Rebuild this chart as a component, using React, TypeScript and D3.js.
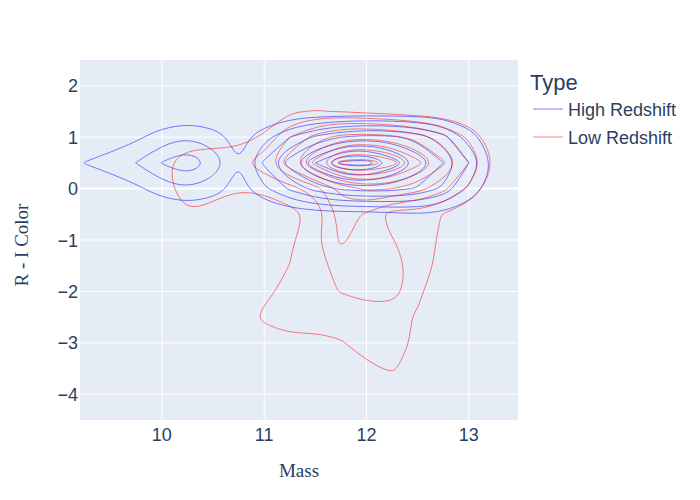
import { useMemo } from "react";
import * as d3 from "d3";

// histogram bin centres (mass along x, R - I colour along y, top row first)
const massBins = [9.0, 9.25, 9.5, 9.75, 10.0, 10.25, 10.5, 10.75, 11.0, 11.25, 11.5, 11.75, 12.0, 12.25, 12.5, 12.75, 13.0, 13.25, 13.5];
const colorBins = [2.0, 1.5, 1.0, 0.5, 0.0, -0.5, -1.0, -1.5, -2.0, -2.5, -3.0, -3.5, -4.0];

// estimated counts per bin, one row per colour bin
const highRedshift = [
  [0, 0, 0, 0, 0, 0, 0, 0, 0, 0, 0, 0, 0, 0, 0, 0, 0, 0, 0],
  [0, 0, 0, 0, 0, 0.1, 0, 0, 0, 0.1, 0.1, 0.1, 0.1, 0.1, 0.1, 0.1, 0, 0, 0],
  [0, 0, 0.3, 0.8, 1.5, 1.95, 1.5, 0.6, 1.6, 3.0, 4.2, 5.0, 5.4, 5.2, 4.6, 3.4, 1.5, 0.2, 0],
  [0.3, 1.05, 1.5, 2.02, 3.05, 3.9, 2.7, 1.01, 3.2, 5.6, 8.0, 10.3, 10.6, 8.8, 6.9, 5.0, 3.0, 0.8, 0],
  [0, 0, 0.3, 0.8, 1.5, 1.95, 1.5, 0.6, 1.8, 3.2, 4.4, 5.2, 5.5, 5.4, 4.9, 3.8, 1.8, 0.3, 0],
  [0, 0, 0, 0, 0, 0.15, 0, 0, 0, 0.2, 0.4, 0.5, 0.5, 0.7, 0.9, 0.7, 0.2, 0, 0],
  [0, 0, 0, 0, 0, 0, 0, 0, 0, 0, 0, 0, 0, 0, 0, 0, 0, 0, 0],
  [0, 0, 0, 0, 0, 0, 0, 0, 0, 0, 0, 0, 0, 0, 0, 0, 0, 0, 0],
  [0, 0, 0, 0, 0, 0, 0, 0, 0, 0, 0, 0, 0, 0, 0, 0, 0, 0, 0],
  [0, 0, 0, 0, 0, 0, 0, 0, 0, 0, 0, 0, 0, 0, 0, 0, 0, 0, 0],
  [0, 0, 0, 0, 0, 0, 0, 0, 0, 0, 0, 0, 0, 0, 0, 0, 0, 0, 0],
  [0, 0, 0, 0, 0, 0, 0, 0, 0, 0, 0, 0, 0, 0, 0, 0, 0, 0, 0],
  [0, 0, 0, 0, 0, 0, 0, 0, 0, 0, 0, 0, 0, 0, 0, 0, 0, 0, 0],
];

const lowRedshift = [
  [0, 0, 0, 0, 0, 0, 0, 0, 0, 0, 0, 0, 0, 0, 0, 0, 0, 0, 0],
  [0, 0, 0, 0, 0, 0, 0, 0, 0.3, 0.9, 1.05, 0.95, 0.7, 0.5, 0.3, 0.2, 0, 0, 0],
  [0, 0, 0, 0, 0.2, 0.5, 0.5, 0.6, 1.15, 3.0, 4.4, 5.4, 5.6, 5.3, 4.6, 3.4, 1.8, 0.3, 0],
  [0, 0, 0, 0.2, 0.76, 1.5, 1.6, 1.7, 2.64, 4.7, 7.5, 10.5, 10.8, 9.6, 7.4, 5.2, 3.0, 0.95, 0],
  [0, 0, 0, 0.1, 0.7, 1.4, 1.5, 1.05, 1.15, 1.6, 2.5, 4.3, 5.2, 5.0, 4.4, 3.3, 1.8, 0.3, 0],
  [0, 0, 0, 0, 0.3, 0.95, 0.5, 0.4, 0.5, 0.7, 1.25, 3.4, 2.85, 1.45, 1.5, 0.95, 0.3, 0, 0],
  [0, 0, 0, 0, 0, 0, 0, 0, 0.3, 0.8, 1.8, 3.2, 2.5, 2.05, 1.5, 0.8, 0.2, 0, 0],
  [0, 0, 0, 0, 0, 0, 0, 0, 0.4, 1.02, 1.7, 2.3, 2.5, 2.4, 1.6, 0.6, 0, 0, 0],
  [0, 0, 0, 0, 0, 0, 0, 0.2, 0.7, 1.4, 1.7, 2.05, 2.4, 2.5, 1.2, 0.3, 0, 0, 0],
  [0, 0, 0, 0, 0, 0, 0, 0.2, 1.25, 1.45, 1.4, 1.3, 1.4, 1.3, 0.9, 0.2, 0, 0, 0],
  [0, 0, 0, 0, 0, 0, 0, 0, 0.3, 0.73, 0.75, 0.95, 1.3, 1.45, 0.8, 0.1, 0, 0, 0],
  [0, 0, 0, 0, 0, 0, 0, 0, 0, 0, 0, 0.2, 0.85, 1.1, 0.6, 0, 0, 0, 0],
  [0, 0, 0, 0, 0, 0, 0, 0, 0, 0, 0, 0, 0.1, 0.3, 0.1, 0, 0, 0, 0],
];

const contourLevels = [1, 2, 3, 4, 5, 6, 7, 8, 9, 10];
const xTicks = [10, 11, 12, 13];
const yTicks = [2, 1, 0, -1, -2, -3, -4];
const seriesNames = ["High Redshift", "Low Redshift"];
const seriesColors = ["blue", "red"];

const width = 700;
const height = 500;
const margin = { top: 60, right: 182, bottom: 80, left: 80 };
const textColor = "#2a3f5f";
const sans = "'Liberation Sans', Arial, sans-serif";
const serif = "'Liberation Serif', 'Times New Roman', serif";

export default function App() {
  const innerW = width - margin.left - margin.right;
  const innerH = height - margin.top - margin.bottom;

  const x = d3.scaleLinear().domain([9.2, 13.48]).range([margin.left, margin.left + innerW]);
  const y = d3.scaleLinear().domain([-4.5, 2.5]).range([margin.top + innerH, margin.top]);

  const paths = useMemo(() => {
    const nx = massBins.length;
    const ny = colorBins.length;
    const dx = massBins[1] - massBins[0];
    const dy = colorBins[1] - colorBins[0];
    const gen = d3.contours().size([nx, ny]).thresholds(contourLevels);
    const line = d3.line().curve(d3.curveBasisClosed);

    return [highRedshift, lowRedshift].map((grid) => {
      const out: string[] = [];
      for (const c of gen(grid.flat())) {
        for (const poly of c.coordinates) {
          for (const ring of poly) {
            const pts = ring.slice(0, -1).map(([gx, gy]) => [
              x(massBins[0] + (gx - 0.5) * dx),
              y(colorBins[0] + (gy - 0.5) * dy),
            ] as [number, number]);
            out.push(line(pts) as string);
          }
        }
      }
      return out;
    });
  }, []);

  return (
    <svg width={width} height={height} style={{ position: "absolute", left: 0, top: 0, background: "#fff" }}>
      <defs>
        <clipPath id="plot-clip">
          <rect x={margin.left} y={margin.top} width={innerW} height={innerH} />
        </clipPath>
      </defs>
      <rect x={margin.left} y={margin.top} width={innerW} height={innerH} fill="#E5ECF6" />

      {xTicks.map((t) => (
        <line key={"gx" + t} x1={x(t)} x2={x(t)} y1={margin.top} y2={margin.top + innerH} stroke="#fff" strokeWidth={1} />
      ))}
      {yTicks.map((t) => (
        <line key={"gy" + t} x1={margin.left} x2={margin.left + innerW} y1={y(t)} y2={y(t)} stroke="#fff" strokeWidth={t === 0 ? 2 : 1} />
      ))}

      <g clipPath="url(#plot-clip)">
        {paths.map((ps, i) => (
          <g key={seriesNames[i]} opacity={0.5} fill="none" stroke={seriesColors[i]} strokeWidth={1}>
            {ps.map((d, j) => (
              <path key={j} d={d} />
            ))}
          </g>
        ))}
      </g>

      {xTicks.map((t) => (
        <text key={"tx" + t} x={x(t)} y={441} textAnchor="middle" fontFamily={sans} fontSize={18} fill={textColor}>
          {t}
        </text>
      ))}
      {yTicks.map((t) => (
        <text key={"ty" + t} x={78} y={y(t) + 6.5} textAnchor="end" fontFamily={sans} fontSize={18} fill={textColor}>
          {t < 0 ? "\u2212" + Math.abs(t) : t}
        </text>
      ))}

      <text x={x(11.34)} y={477} textAnchor="middle" fontFamily={serif} fontSize={19} fill={textColor}>
        Mass
      </text>
      <text transform="translate(28,245) rotate(-90)" textAnchor="middle" fontFamily={serif} fontSize={19} fill={textColor}>
        R - I Color
      </text>

      <g fontFamily={sans} fill={textColor}>
        <text x={530} y={89.5} fontSize={22}>Type</text>
        {seriesNames.map((name, i) => (
          <g key={name} transform={`translate(0, ${109 + i * 28})`}>
            <line x1={533} x2={563} y1={0} y2={0} stroke={seriesColors[i]} strokeWidth={1} opacity={0.5} />
            <text x={568} y={6.5} fontSize={18}>{name}</text>
          </g>
        ))}
      </g>
    </svg>
  );
}
